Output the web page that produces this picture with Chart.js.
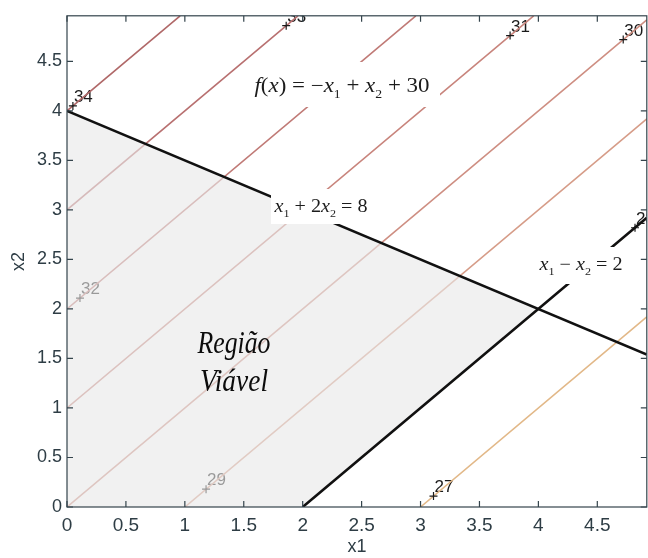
<!DOCTYPE html>
<html>
<head>
<meta charset="utf-8">
<script src="https://cdn.jsdelivr.net/npm/chart.js@4.4.0/dist/chart.umd.min.js"></script>
<style>
  html, body { margin: 0; padding: 0; background: #fff; overflow: hidden; }
  canvas { display: block; }
</style>
</head>
<body>
<canvas id="grafico" width="652" height="558"></canvas>
<script>
// curvas de nivel de f(x) = -x1 + x2 + 30
const niveis = [34, 33, 32, 31, 30, 29, 28, 27];
const coresNiveis = ['#b06868', '#b87070', '#c07a76', '#c8847c', '#ce8e82', '#d69c88', '#dcaa8e', '#e2b888'];
const inicioX1 = [0, 0, 0, 0, 0, 1, 2, 3];
const inicioX2 = [4, 3, 2, 1, 0, 0, 0, 0];
const fimX1 = [0.96, 1.96, 2.96, 3.96, 4.92, 4.92, 4.92, 4.92];
const fimX2 = [4.96, 4.96, 4.96, 4.96, 4.92, 3.92, 2.92, 1.92];
// onde ficou cada rotulo (clabel)
const rotuloX1 = [0.05, 1.86, 0.11, 3.76, 4.72, 1.18, 4.82, 3.11];
const rotuloX2 = [4.05, 4.86, 2.11, 4.76, 4.72, 0.18, 2.82, 0.11];

// restricoes
const reta1X1 = [0, 4.92];   // x1 + 2x2 = 8
const reta1X2 = [4, 1.54];
const reta2X1 = [2, 4.92];   // x1 - x2 = 2
const reta2X2 = [0, 2.92];
// regiao viavel
const regiaoX1 = [0, 2, 4, 0, 0];
const regiaoX2 = [0, 0, 2, 4, 0];

const ticksEixo = [0, 0.5, 1, 1.5, 2, 2.5, 3, 3.5, 4, 4.5];

const pares = (xs, ys) => xs.map((x, i) => ({ x: x, y: ys[i] }));
const corEixo = '#34444c';

function textoRico(ctx, partes, cx, base, largura, tam, cor) {
  const fonte = (p) => {
    const t = p[1] === 's' ? tam * 0.6 : tam;
    return (p[1] === 'i' ? 'italic ' : '') + t + 'px "Liberation Serif"';
  };
  let w = 0;
  partes.forEach(p => { ctx.font = fonte(p); w += ctx.measureText(p[0]).width; });
  ctx.save();
  ctx.translate(cx - largura / 2, base);
  ctx.scale(largura / w, 1);
  ctx.textAlign = 'left';
  ctx.textBaseline = 'alphabetic';
  ctx.fillStyle = cor || '#1c1c1c';
  let x = 0;
  partes.forEach(p => {
    ctx.font = fonte(p);
    ctx.fillText(p[0], x, p[1] === 's' ? tam * 0.28 : 0);
    x += ctx.measureText(p[0]).width;
  });
  ctx.restore();
}

const extras = {
  id: 'extras',
  beforeDatasetsDraw(chart) {
    const { ctx, chartArea: a, scales } = chart;
    ctx.save();
    ctx.beginPath();
    ctx.rect(a.left, a.top, a.right - a.left, a.bottom - a.top);
    ctx.clip();
    ctx.font = '17px "Liberation Sans"';
    ctx.fillStyle = '#1a1a1a';
    ctx.textAlign = 'left';
    ctx.textBaseline = 'alphabetic';
    niveis.forEach((n, i) => {
      const px = scales.x.getPixelForValue(rotuloX1[i]);
      const py = scales.y.getPixelForValue(rotuloX2[i]);
      ctx.fillText(String(n), px + 1, py - 4);
    });
    ctx.restore();
  },
  afterDatasetsDraw(chart) {
    const { ctx, chartArea: a, scales } = chart;
    ctx.save();
    ctx.fillStyle = '#ffffff';
    ctx.fillRect(247, 62, 193, 45);
    ctx.fillRect(271, 189, 106, 35);
    ctx.fillRect(534, 247, 96, 37);

    textoRico(ctx, [['f', 'i'], ['(', 'n'], ['x', 'i'], [')', 'n'], [' = \u2212', 'n'], ['x', 'i'], ['1', 's'],
      [' + ', 'n'], ['x', 'i'], ['2', 's'], [' + 30', 'n']], 342, 92, 175, 20);
    textoRico(ctx, [['x', 'i'], ['1', 's'], [' + 2', 'n'], ['x', 'i'], ['2', 's'], [' = 8', 'n']], 321, 212, 93, 19);
    textoRico(ctx, [['x', 'i'], ['1', 's'], [' \u2212 ', 'n'], ['x', 'i'], ['2', 's'], [' = 2', 'n']], 581, 270, 83, 18);
    textoRico(ctx, [['Região', 'i']], 234, 353, 73, 31, '#0c0c0c');
    textoRico(ctx, [['Viável', 'i']], 234, 391, 68, 31, '#0c0c0c');

    // moldura com ticks para dentro
    ctx.strokeStyle = corEixo;
    ctx.lineWidth = 1.2;
    ctx.strokeRect(a.left, a.top, a.right - a.left, a.bottom - a.top);
    ctx.beginPath();
    ticksEixo.forEach(v => {
      const px = scales.x.getPixelForValue(v);
      const py = scales.y.getPixelForValue(v);
      ctx.moveTo(px, a.bottom); ctx.lineTo(px, a.bottom - 6);
      ctx.moveTo(px, a.top); ctx.lineTo(px, a.top + 6);
      ctx.moveTo(a.left, py); ctx.lineTo(a.left + 6, py);
      ctx.moveTo(a.right, py); ctx.lineTo(a.right - 6, py);
    });
    ctx.stroke();

    ctx.fillStyle = '#2e3d45';
    ctx.font = '18px "Liberation Sans"';
    ctx.textAlign = 'center';
    ctx.textBaseline = 'middle';
    ctx.fillText('x1', (a.left + a.right) / 2, 547);
    ctx.translate(19, (a.top + a.bottom) / 2);
    ctx.rotate(-Math.PI / 2);
    ctx.fillText('x2', 0, 0);
    ctx.restore();
  }
};

const datasets = [
  {
    data: pares(reta1X1, reta1X2), showLine: true, borderColor: '#111111', borderWidth: 2.6,
    pointRadius: 0, order: 1
  },
  {
    data: pares(reta2X1, reta2X2), showLine: true, borderColor: '#111111', borderWidth: 2.6,
    pointRadius: 0, order: 1
  },
  {
    data: pares(regiaoX1, regiaoX2), showLine: true, fill: 'shape', borderWidth: 0,
    backgroundColor: 'rgba(232,232,232,0.62)', borderColor: 'rgba(0,0,0,0)', pointRadius: 0, order: 2
  },
  {
    data: pares(rotuloX1, rotuloX2), showLine: false, pointStyle: 'cross', pointRadius: 4,
    borderColor: '#1a1a1a', borderWidth: 1.2, order: 3
  }
];
niveis.forEach((n, i) => {
  datasets.push({
    data: [{ x: inicioX1[i], y: inicioX2[i] }, { x: fimX1[i], y: fimX2[i] }],
    showLine: true, borderColor: coresNiveis[i], borderWidth: 1.6, pointRadius: 0, order: 4
  });
});

new Chart(document.getElementById('grafico'), {
  type: 'scatter',
  data: { datasets: datasets },
  options: {
    responsive: false,
    animation: false,
    layout: { padding: { top: 13, right: 1, left: 0, bottom: 0 } },
    scales: {
      x: {
        type: 'linear', min: 0, max: 4.92,
        afterBuildTicks: (s) => { s.ticks = ticksEixo.map(v => ({ value: v })); },
        afterFit: (s) => { s.height = 51; },
        grid: { display: false, drawTicks: false },
        border: { display: false },
        ticks: { color: '#2e3d45', font: { family: 'Liberation Sans', size: 19 }, padding: 7,
          maxRotation: 0, callback: (v) => String(v) }
      },
      y: {
        type: 'linear', min: 0, max: 4.96,
        afterBuildTicks: (s) => { s.ticks = ticksEixo.map(v => ({ value: v })); },
        afterFit: (s) => { s.width = 67; },
        grid: { display: false, drawTicks: false },
        border: { display: false },
        ticks: { color: '#2e3d45', font: { family: 'Liberation Sans', size: 18 }, padding: 5,
          callback: (v) => String(v) }
      }
    },
    plugins: { legend: { display: false }, tooltip: { enabled: false } }
  },
  plugins: [extras]
});
</script>
</body>
</html>
